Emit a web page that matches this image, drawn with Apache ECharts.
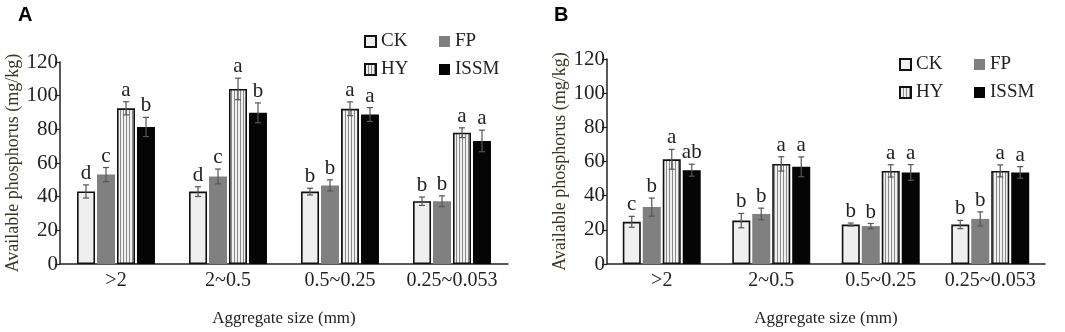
<!DOCTYPE html>
<html>
<head>
<meta charset="utf-8">
<script src="https://cdn.jsdelivr.net/npm/echarts@6/dist/echarts.min.js"></script>
<style>
  html, body { margin: 0; padding: 0; background: #fff; }
  #container { width: 1065px; height: 332px; }
</style>
</head>
<body>
<div id="container"></div>
<script>
const categories = ['>2', '2~0.5', '0.5~0.25', '0.25~0.053'];
const yTicks = [0, 20, 40, 60, 80, 100, 120];

// panel A
const ckA = [43.1, 43.0, 43.0, 37.3];
const fpA = [53.1, 52.0, 46.7, 37.3];
const hyA = [92.5, 104.0, 92.2, 78.0];
const issmA = [81.4, 89.8, 88.8, 73.1];
const ckAErr = [3.9, 2.9, 2.0, 2.5];
const fpAErr = [4.2, 4.4, 3.3, 3.2];
const hyAErr = [3.9, 6.4, 4.1, 2.9];
const issmAErr = [5.7, 5.9, 4.1, 6.4];
const ckALet = ['d', 'd', 'b', 'b'];
const fpALet = ['c', 'c', 'b', 'b'];
const hyALet = ['a', 'a', 'a', 'a'];
const issmALet = ['b', 'b', 'a', 'a'];

// panel B
const ckB = [24.7, 25.4, 23.1, 23.1];
const fpB = [33.3, 29.3, 22.2, 26.4];
const hyB = [61.3, 58.6, 54.5, 54.5];
const issmB = [54.9, 56.9, 53.6, 53.6];
const ckBErr = [3.2, 4.2, 0.9, 2.4];
const fpBErr = [5.3, 3.4, 1.5, 4.1];
const hyBErr = [5.8, 4.2, 3.6, 3.5];
const issmBErr = [3.5, 5.8, 4.6, 3.4];
const ckBLet = ['c', 'b', 'b', 'b'];
const fpBLet = ['b', 'b', 'b', 'b'];
const hyBLet = ['a', 'a', 'a', 'a'];
const issmBLet = ['ab', 'a', 'a', 'a'];

const serif = '"Liberation Serif", "Times New Roman", serif';
const ink = '#222';

// vertical stripe fill for HY
const stripe = document.createElement('canvas');
stripe.width = 3; stripe.height = 4;
(function () {
    const c = stripe.getContext('2d');
    c.fillStyle = '#f0f0f0'; c.fillRect(0, 0, 3, 4);
    c.fillStyle = '#8a8a8a'; c.fillRect(0, 0, 1, 4);
})();

const styles = {
    CK: { color: '#efefef', borderColor: '#111', borderWidth: 1.6 },
    FP: { color: '#808080' },
    HY: { color: { image: stripe, repeat: 'repeat' }, borderColor: '#111', borderWidth: 1.6 },
    ISSM: { color: '#050505' }
};

function bar(name, data, ax) {
    return {
        type: 'bar', name: name, data: data,
        xAxisIndex: ax, yAxisIndex: ax,
        barWidth: 18, barGap: '11%',
        itemStyle: styles[name]
    };
}

function errBars(vals, errs, lets, idx, ax) {
    return {
        type: 'custom', xAxisIndex: ax, yAxisIndex: ax, z: 10, silent: true,
        data: vals.map((v, i) => [i, v, errs[i]]),
        encode: { x: 0, y: 1 },
        renderItem: function (params, api) {
            const c = api.value(0), v = api.value(1), e = api.value(2);
            const top = api.coord([c, v + e]);
            const bot = api.coord([c, v - e]);
            const x = top[0] + (idx - 1.5) * 20;
            const ln = { stroke: '#555', lineWidth: 1.2 };
            return {
                type: 'group',
                children: [
                    { type: 'line', shape: { x1: x, y1: top[1], x2: x, y2: bot[1] }, style: ln },
                    { type: 'line', shape: { x1: x - 3, y1: top[1], x2: x + 3, y2: top[1] }, style: ln },
                    { type: 'line', shape: { x1: x - 3, y1: bot[1], x2: x + 3, y2: bot[1] }, style: ln },
                    {
                        type: 'text',
                        style: {
                            text: lets[params.dataIndex], x: x, y: top[1] - 1,
                            align: 'center', verticalAlign: 'bottom',
                            font: '21px ' + serif, fill: ink
                        }
                    }
                ]
            };
        }
    };
}

function xAxis(ax) {
    return {
        type: 'category', gridIndex: ax, data: categories,
        axisLine: { lineStyle: { color: ink, width: 1.5 } },
        axisTick: { inside: true, length: 6, lineStyle: { color: ink, width: 1.2 } },
        axisLabel: { interval: 0, fontFamily: serif, fontSize: 20, color: ink, margin: 7 },
        name: 'Aggregate size (mm)', nameLocation: 'middle', nameGap: 46,
        nameTextStyle: { fontFamily: serif, fontSize: 17, color: ink }
    };
}

function yAxis(ax, gap) {
    return {
        type: 'value', gridIndex: ax, min: yTicks[0], max: yTicks[yTicks.length - 1], interval: 20,
        axisLine: { show: true, lineStyle: { color: ink, width: 1.5 } },
        axisTick: { show: true, length: 5, lineStyle: { color: ink, width: 1.2 } },
        splitLine: { show: false },
        axisLabel: { fontFamily: serif, fontSize: 21, color: ink, margin: 2 },
        name: 'Available phosphorus (mg/kg)', nameLocation: 'middle', nameGap: gap,
        nameTextStyle: { fontFamily: serif, fontSize: 18, color: '#3a3626' }
    };
}

function legend(names, left, top) {
    return {
        data: names, orient: 'vertical', left: left, top: top,
        icon: 'rect', itemWidth: 11, itemHeight: 11, itemGap: 9,
        selectedMode: false,
        textStyle: { fontFamily: serif, fontSize: 19, color: ink, lineHeight: 18 }
    };
}

const chart = echarts.init(document.getElementById('container'));
chart.setOption({
    animation: false,
    title: [
        { text: 'A', left: 13, top: 0, textStyle: { fontFamily: '"Liberation Sans", Arial', fontWeight: 'bold', fontSize: 20, color: '#000' } },
        { text: 'B', left: 549, top: 0, textStyle: { fontFamily: '"Liberation Sans", Arial', fontWeight: 'bold', fontSize: 20, color: '#000' } }
    ],
    legend: [
        legend(['CK', 'HY'], 359, 27),
        legend(['FP', 'ISSM'], 434, 27),
        legend(['CK', 'HY'], 894, 50),
        legend(['FP', 'ISSM'], 969, 50)
    ],
    grid: [
        { left: 60, top: 62, width: 448, height: 204 },
        { left: 607, top: 59, width: 438, height: 208 }
    ],
    xAxis: [xAxis(0), xAxis(1)],
    yAxis: [yAxis(0, 38), yAxis(1, 35)],
    series: [
        bar('CK', ckA, 0), bar('FP', fpA, 0), bar('HY', hyA, 0), bar('ISSM', issmA, 0),
        bar('CK', ckB, 1), bar('FP', fpB, 1), bar('HY', hyB, 1), bar('ISSM', issmB, 1),
        errBars(ckA, ckAErr, ckALet, 0, 0), errBars(fpA, fpAErr, fpALet, 1, 0),
        errBars(hyA, hyAErr, hyALet, 2, 0), errBars(issmA, issmAErr, issmALet, 3, 0),
        errBars(ckB, ckBErr, ckBLet, 0, 1), errBars(fpB, fpBErr, fpBLet, 1, 1),
        errBars(hyB, hyBErr, hyBLet, 2, 1), errBars(issmB, issmBErr, issmBLet, 3, 1)
    ]
});
</script>
</body>
</html>
